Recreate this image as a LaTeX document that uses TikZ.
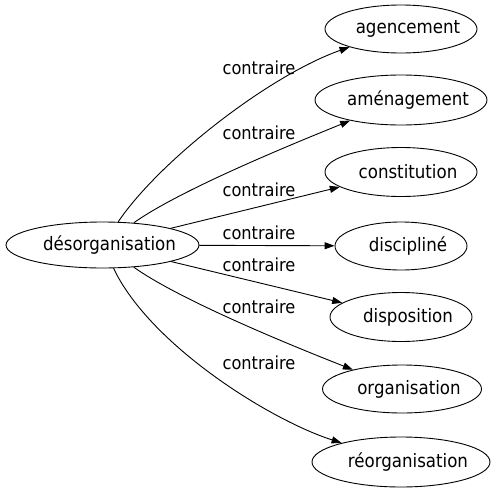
\documentclass[tikz,border=0pt]{standalone}
\usepackage{fontspec}
\setmainfont{DejaVu Sans Condensed}
\usetikzlibrary{shapes.geometric,arrows.meta}
\newcommand{\sh}[1]{\hspace*{14pt}\makebox[0pt]{#1}}
\begin{document}
\begin{tikzpicture}[x=1pt,y=-1pt,
  every node/.style={font=\fontsize{18}{21}\selectfont},
  term/.style={draw,ellipse,inner sep=0pt,line width=0.9pt,font=\fontsize{18.5}{21}\selectfont},
  rel/.style={line width=0.9pt,-{Triangle[length=10pt,width=7pt]}},
  lab/.style={inner sep=0pt}]
\useasboundingbox (0,0) rectangle (496,491);
\node[term,minimum width=193pt,minimum height=46pt] (c) at (102.5,245) {\sh{désorganisation}};
\node[term,minimum width=152pt,minimum height=48pt] (a1) at (401,29) {\sh{agencement}};
\node[term,minimum width=172pt,minimum height=50pt] (a2) at (401,100) {\sh{aménagement}};
\node[term,minimum width=152pt,minimum height=49pt] (a3) at (401,172) {\sh{constitution}};
\node[term,minimum width=132pt,minimum height=48pt] (a4) at (401,246) {\sh{discipliné}};
\node[term,minimum width=142pt,minimum height=49pt] (a5) at (401,317) {\sh{disposition}};
\node[term,minimum width=159pt,minimum height=48pt] (a6) at (402,389) {\sh{organisation}};
\node[term,minimum width=178pt,minimum height=50pt] (a7) at (401,462) {\sh{réorganisation}};
\draw[rel] (c) .. controls (160,160) and (270,75) .. (a1);
\draw[rel] (c) .. controls (180,190) and (290,145) .. (a2);
\draw[rel] (c) -- (a3);
\draw[rel] (c) -- (a4);
\draw[rel] (c) -- (a5);
\draw[rel] (c) .. controls (180,300) and (290,345) .. (a6);
\draw[rel] (c) .. controls (150,345) and (270,420) .. (a7);
\node[lab] (l1) at (259,68) {contraire};
\node[lab] (l2) at (259,133) {contraire};
\node[lab] (l3) at (259,190) {contraire};
\node[lab] (l4) at (259,233) {contraire};
\node[lab] (l5) at (259,265) {contraire};
\node[lab] (l6) at (259,307) {contraire};
\node[lab] (l7) at (259,363) {contraire};
\end{tikzpicture}
\end{document}
